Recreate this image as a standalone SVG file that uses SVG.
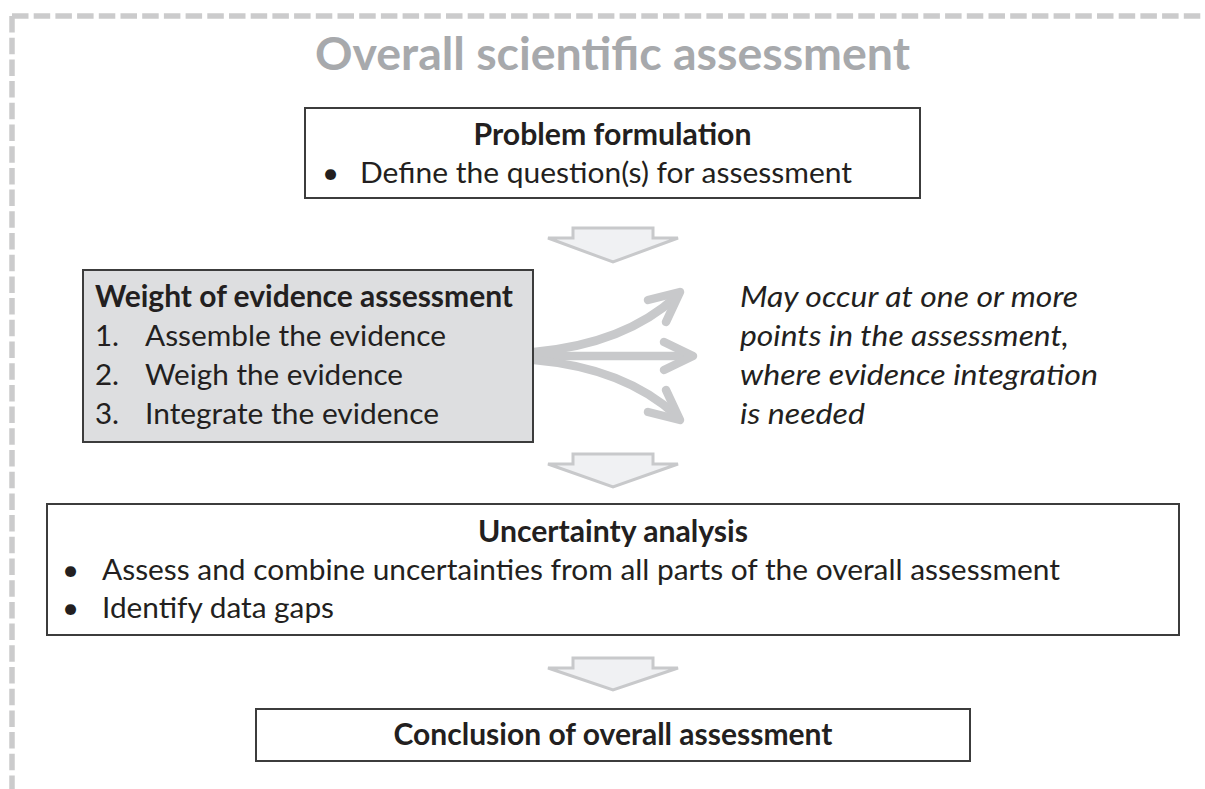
<svg xmlns="http://www.w3.org/2000/svg" width="1205" height="789" viewBox="0 0 1205 789">
<style>
.frame{fill:none;stroke:#cbcbcc;stroke-width:5.5;stroke-dasharray:16.5 5.2}
.box{fill:#ffffff;stroke:#3c3c3c;stroke-width:2}
.grey{fill:#dddee0;stroke:#3c3c3c;stroke-width:2}
.blk{fill:#f0f1f3;stroke:#c8c9cb;stroke-width:3;stroke-linejoin:miter}
.fan{fill:none;stroke:#c8c9cb;stroke-width:8.5;stroke-linecap:round;stroke-linejoin:round}
.t{font-family:Lato,"Open Sans","Liberation Sans",sans-serif;font-size:29.5px;fill:#231f20}
.b{font-weight:bold}
.i{font-style:italic}
.title{font-family:Lato,"Open Sans","Liberation Sans",sans-serif;font-size:46px;font-weight:bold;fill:#a7a9ac}
</style>
<path class="frame" d="M12 16 H1205"/>
<path class="frame" d="M12 16 V789"/>
<text class="title" x="612.5" y="70" text-anchor="middle" textLength="595" lengthAdjust="spacingAndGlyphs">Overall scientific assessment</text>
<g id="connectors">
<path class="blk" d="M573 228 H653 V238 H678 L613 262 L548 238 H573 Z"/>
<path class="blk" d="M573 454 H653 V464 H678 L613 487 L548 464 H573 Z"/>
<path class="blk" d="M573 658 H653 V668 H678 L613 690 L548 668 H573 Z"/>
<path class="fan" d="M534 352 C592 347 640 330 677 296"/>
<polyline class="fan" points="648,300 680,292 666,322"/>
<path class="fan" d="M534 356 L690 356"/>
<polyline class="fan" points="664,342 693,356 664,370"/>
<path class="fan" d="M534 360 C592 365 640 382 677 416"/>
<polyline class="fan" points="648,412 680,420 666,390"/>
</g>
<g id="problem">
<rect class="box" x="305" y="108" width="615" height="90"/>
<text class="t b" x="612.5" y="145" text-anchor="middle" textLength="278" lengthAdjust="spacingAndGlyphs">Problem formulation</text>
<text class="t" x="322" y="183">•</text>
<text class="t" x="360" y="183" textLength="492" lengthAdjust="spacingAndGlyphs">Define the question(s) for assessment</text>
</g>
<g id="weight">
<rect class="grey" x="83" y="270" width="450" height="172"/>
<text class="t b" x="95" y="307" textLength="418" lengthAdjust="spacingAndGlyphs">Weight of evidence assessment</text>
<text class="t" x="95" y="346">1.</text>
<text class="t" x="145" y="346" textLength="301" lengthAdjust="spacingAndGlyphs">Assemble the evidence</text>
<text class="t" x="95" y="385">2.</text>
<text class="t" x="145" y="385" textLength="258" lengthAdjust="spacingAndGlyphs">Weigh the evidence</text>
<text class="t" x="95" y="424">3.</text>
<text class="t" x="145" y="424" textLength="294" lengthAdjust="spacingAndGlyphs">Integrate the evidence</text>
</g>
<g id="note">
<text class="t i" x="740" y="307" textLength="338" lengthAdjust="spacingAndGlyphs">May occur at one or more</text>
<text class="t i" x="740" y="346" textLength="329" lengthAdjust="spacingAndGlyphs">points in the assessment,</text>
<text class="t i" x="740" y="385" textLength="358" lengthAdjust="spacingAndGlyphs">where evidence integration</text>
<text class="t i" x="740" y="424" textLength="125" lengthAdjust="spacingAndGlyphs">is needed</text>
</g>
<g id="uncertainty">
<rect class="box" x="47" y="504" width="1132" height="131"/>
<text class="t b" x="613" y="542" text-anchor="middle" textLength="270" lengthAdjust="spacingAndGlyphs">Uncertainty analysis</text>
<text class="t" x="62" y="580">•</text>
<text class="t" x="102" y="580" textLength="958" lengthAdjust="spacingAndGlyphs">Assess and combine uncertainties from all parts of the overall assessment</text>
<text class="t" x="62" y="618">•</text>
<text class="t" x="102" y="618" textLength="232" lengthAdjust="spacingAndGlyphs">Identify data gaps</text>
</g>
<g id="conclusion">
<rect class="box" x="256" y="709" width="714" height="52"/>
<text class="t b" x="613" y="745" text-anchor="middle" textLength="439" lengthAdjust="spacingAndGlyphs">Conclusion of overall assessment</text>
</g>
</svg>
